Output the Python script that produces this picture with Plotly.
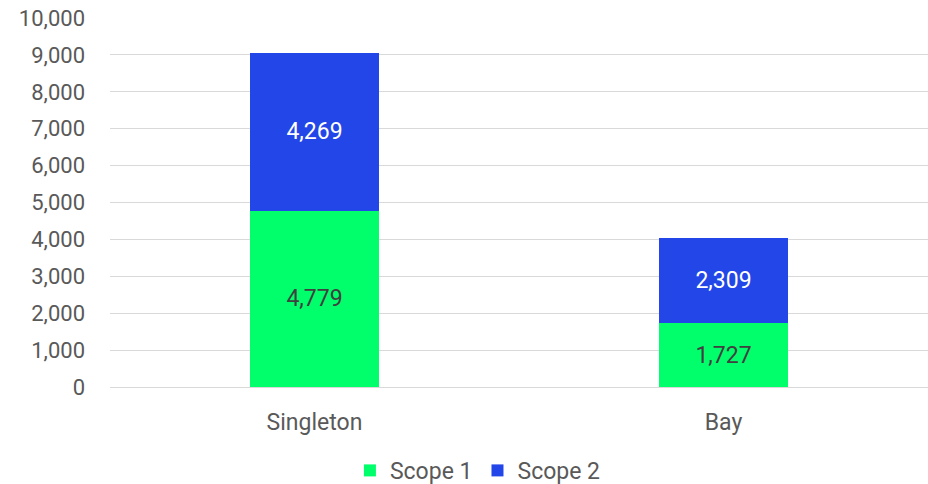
import plotly.graph_objects as go

sites = ["Singleton", "Bay"]
scope1 = [4779, 1727]
scope2 = [4269, 2309]
y_ticks = list(range(0, 10001, 1000))

fig = go.Figure()
fig.add_trace(go.Bar(
    x=sites, y=scope1, name="Scope 1",
    marker=dict(color="#00FF6A", line=dict(width=0)),
    text=[f"{v:,}" for v in scope1], textposition="inside",
    insidetextanchor="middle",
    textfont=dict(color="#404040", size=23, family="Roboto"),
))
fig.add_trace(go.Bar(
    x=sites, y=scope2, name="Scope 2",
    marker=dict(color="#2346E8", line=dict(width=0)),
    text=[f"{v:,}" for v in scope2], textposition="inside",
    insidetextanchor="middle",
    textfont=dict(color="#FFFFFF", size=23, family="Roboto"),
))

fig.update_layout(
    barmode="stack",
    bargap=0.687,
    width=928, height=484,
    margin=dict(l=110, r=0, t=18, b=97, autoexpand=False),
    paper_bgcolor="white", plot_bgcolor="white",
    font=dict(family="Roboto", size=22, color="#595959"),
    uniformtext=dict(mode=False),
    legend=dict(
        orientation="h", x=0.515, xanchor="center", xref="container",
        y=0.028, yanchor="middle", yref="container",
        font=dict(size=23, color="#595959"), itemwidth=30,
        traceorder="normal",
    ),
    xaxis=dict(showline=True, linecolor="#d9d9d9", linewidth=1, ticks="",
               ticklabelstandoff=14,
               tickfont=dict(size=23, color="#595959")),
    yaxis=dict(range=[0, 10000], tickvals=y_ticks, tickformat=",",
               showgrid=True, gridcolor="#d9d9d9", gridwidth=1,
               zeroline=False, ticks="", ticklabelstandoff=24,
               tickfont=dict(size=22, color="#595959")),
)
fig.write_html("out.html")
